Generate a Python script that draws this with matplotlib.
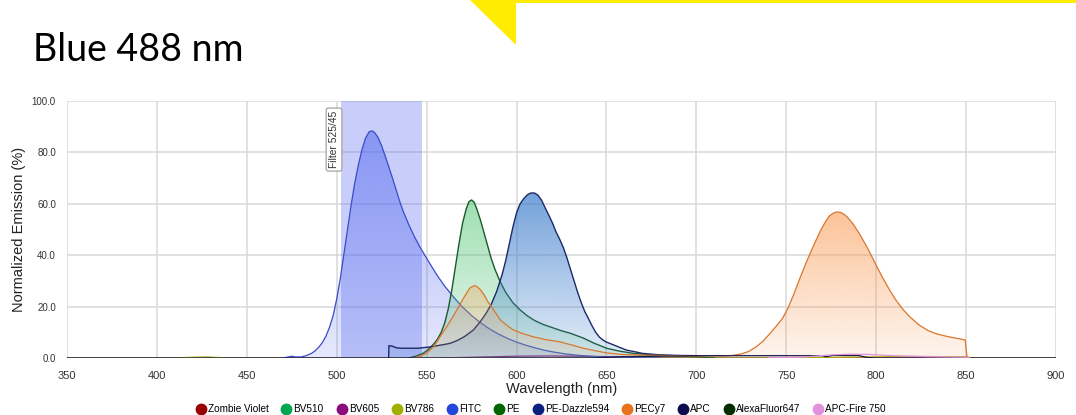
import numpy as np
import matplotlib
matplotlib.use("Agg")
import matplotlib.pyplot as plt
import matplotlib.colors as mcolors
from matplotlib.lines import Line2D
from matplotlib.patches import Polygon, Rectangle

# ---------------------------------------------------------------
# Emission spectra (wavelength in nm, normalized emission in %)
# ---------------------------------------------------------------
fitc_wl = [470, 473, 475, 477, 480, 483, 486, 488, 490, 492, 494, 496, 498, 500, 502, 504,
           506, 508, 510, 512, 514, 516, 518, 519.5, 521, 523, 525, 527, 529, 531, 533, 535,
           537, 540, 543, 546, 549, 552, 556, 560, 565, 570, 575, 580, 585, 590, 595, 600,
           605, 610, 615, 620, 627, 635, 645, 660, 680]
fitc_em = [0, 0.4, 0.7, 0.4, 0.4, 0.9, 1.8, 2.8, 4.2, 6, 8.5, 12, 16.5, 23, 31, 40.5,
           50, 59.5, 68, 75, 81, 85.5, 88, 88.4, 87.8, 85.8, 82.5, 78.5, 74.3, 70, 65.5, 61,
           57, 52, 47.5, 43.5, 40, 36.5, 32, 28, 23.7, 19.8, 16.5, 13.7, 11.3, 9.3, 7.6, 6.2,
           5, 4, 3.1, 2.4, 1.6, 1, 0.5, 0.2, 0]

pe_wl = [540, 544, 548, 551, 554, 556, 558, 560, 562, 564, 566, 568, 570, 572, 573.5, 575,
         576.5, 578, 580, 582, 584, 586, 588, 591, 594, 598, 602, 606, 610, 615, 620, 625,
         630, 637, 643, 650, 657, 665, 672, 680, 690, 700, 710]
pe_em = [0, 0.7, 1.8, 3.3, 5.5, 7.3, 9.8, 13.5, 19, 26.5, 35.5, 44.5, 52.5, 58, 60.8, 61.5,
         60.5, 57.8, 53.5, 48.5, 43.5, 38.5, 34.5, 29.5, 25.5, 21.5, 18.7, 16.4, 14.6, 13, 11.8, 10.6,
         9.6, 7.8, 5.8, 3.8, 2.7, 1.8, 1.4, 1.1, 0.8, 0.5, 0]

dazzle_wl = [528.9, 529, 531, 533, 536, 545, 548, 552, 556, 560, 563, 567, 571, 576, 580, 583,
             586, 589, 592, 594, 596, 598, 600, 602, 604, 606, 608, 610, 612, 614, 616, 618,
             620, 622, 624, 626, 628, 630, 632, 634, 636, 638, 640, 642, 644, 646, 648, 650,
             655, 661, 666, 670, 675, 680, 690, 700]
dazzle_em = [0, 4.8, 4.6, 4.0, 3.8, 3.8, 4.0, 4.3, 4.8, 5.3, 5.7, 6.8, 8.3, 10.9, 14.3, 17.3,
             21, 26, 32.5, 38, 44.5, 51, 56.5, 60, 62, 63.5, 64.2, 64.2, 63.3, 61.3, 58.3, 55.5,
             52.5, 49, 46.2, 43, 39, 34.5, 30, 25.5, 21.5, 18, 15.3, 12.5, 10, 8.2, 7, 6.2,
             4.8, 3.1, 2.4, 1.8, 1.5, 1.2, 1.0, 0.9]

pecy7_wl = [543, 547, 550, 554, 557.5, 561, 565, 569, 572, 574, 576, 577, 578, 580, 582, 584,
            587, 591, 595, 598, 603, 609, 616, 624, 631, 637, 644, 650, 658, 665, 680, 700,
            715, 720, 725, 729, 733, 737, 740, 744, 748, 751, 754, 757, 761, 765, 769, 772,
            774, 776, 778, 780, 782, 784, 787, 791, 795, 799, 803, 807, 811, 815, 819, 824,
            829, 834, 840, 846, 849.5, 850.5, 852]
pecy7_em = [0, 0.8, 1.9, 4.5, 8.3, 12, 16.5, 21.5, 25, 27.2, 28, 28.1, 27.8, 26.5, 24.5, 22,
            19, 14.8, 12.5, 11, 9.6, 8.3, 7.2, 6.3, 5, 3.8, 2.8, 2, 1.4, 1.2, 1.0, 0.8,
            0.8, 1.0, 1.6, 2.5, 4.2, 6.5, 8.8, 12, 15.5, 19.5, 24.5, 30, 37, 43.5, 49.5, 53.3,
            55.3, 56.3, 56.8, 56.7, 56, 54.8, 52.3, 48, 43, 37.5, 32, 27, 22.5, 18.8, 15.8, 12.8,
            10.6, 9.3, 8.3, 7.5, 7, 0.5, 0]

apc_wl = [350, 640, 660, 700, 770, 772, 776, 790, 795, 800, 900]
apc_em = [0, 0, 0.5, 0.9, 0.9, 0.5, 1.0, 1.0, 0.2, 0, 0]

bv605_wl = [350, 555, 575, 600, 620, 645, 670, 700, 900]
bv605_em = [0, 0, 0.3, 0.7, 0.8, 0.6, 0.3, 0, 0]

bv786_wl = [350, 410, 420, 428, 440, 750, 790, 820, 850, 853, 900]
bv786_em = [0, 0, 0.3, 0.4, 0, 0, 0.4, 0.6, 0.5, 0, 0]

fire750_wl = [740, 760, 775, 785, 795, 810, 830, 850, 852]
fire750_em = [0, 0.4, 1.2, 1.5, 1.4, 0.9, 0.5, 0.3, 0]

zero_wl = [350, 900]
zero_em = [0, 0]

# legend order with colours
dyes = ["Zombie Violet", "BV510", "BV605", "BV786", "FITC", "PE", "PE-Dazzle594",
        "PECy7", "APC", "AlexaFluor647", "APC-Fire 750"]
dye_colors = ["#990000", "#00a651", "#8b0a7d", "#a3b000", "#2346dd", "#006400", "#0a2180",
              "#e8731c", "#0b0b4d", "#002e00", "#e391dc"]

filter_lo, filter_hi = 502.5, 547.5
filter_name = "Filter 525/45"


def gradient_fill(ax, x, y, color, a_top, a_bot, z):
    """Fill under a curve with a vertical alpha gradient."""
    poly = ax.fill_between(x, y, 0, facecolor="none", edgecolor="none")
    rgb = mcolors.to_rgb(color)
    img = np.empty((200, 1, 4))
    img[:, :, :3] = rgb
    img[:, 0, 3] = np.linspace(a_bot, a_top, 200)
    im = ax.imshow(img, aspect="auto", origin="lower", zorder=z,
                   extent=[min(x), max(x), 0, max(y)], interpolation="bilinear")
    im.set_clip_path(poly.get_paths()[0], transform=ax.transData)


plt.rcParams["font.family"] = ["Liberation Sans", "DejaVu Sans"]

fig = plt.figure(figsize=(10.76, 4.15), dpi=100)

# yellow header decoration
fig.add_artist(Polygon([(470 / 1076, 1), (516 / 1076, 1), (516 / 1076, 1 - 45 / 415)],
                       closed=True, transform=fig.transFigure, color="#ffec00", lw=0))
fig.add_artist(Rectangle((516 / 1076, 1 - 3 / 415), 560 / 1076, 3 / 415,
                         transform=fig.transFigure, color="#ffec00", lw=0))

fig.text(33 / 1076, 1 - 61 / 415, "Blue 488 nm", fontsize=27, family="Lato",
         va="baseline", ha="left", color="black")

ax = fig.add_axes([67 / 1076, 57 / 415, 989 / 1076, 257 / 415])

# filter band
ax.axvspan(filter_lo, filter_hi, color="#5f70f0", alpha=0.34, lw=0, zorder=1)
ax.text((filter_lo - 4), 85, filter_name, rotation=90, ha="center", va="center",
        fontsize=7.4, color="#333333", zorder=10,
        bbox=dict(boxstyle="round,pad=0.28,rounding_size=0.2", fc="white", ec="#999999", lw=0.8))

# zero-level series
for c in ["#990000", "#00a651", "#002e00"]:
    ax.plot(zero_wl, zero_em, color=c, lw=0.9, zorder=3)
ax.plot(bv605_wl, bv605_em, color="#8b0a7d", lw=0.9, zorder=3)
ax.plot(bv786_wl, bv786_em, color="#a3b000", lw=0.9, zorder=3)

# main filled spectra
gradient_fill(ax, fitc_wl, fitc_em, "#4a5ff0", 0.5, 0.14, 4)
ax.plot(fitc_wl, fitc_em, color="#3a4cc8", lw=0.9, zorder=4.5)

gradient_fill(ax, pe_wl, pe_em, "#3fbf66", 0.5, 0.12, 5)
ax.plot(pe_wl, pe_em, color="#1b5a2a", lw=1.0, zorder=5.5)

gradient_fill(ax, dazzle_wl, dazzle_em, "#3d7dcc", 0.72, 0.14, 6)
ax.plot(dazzle_wl, dazzle_em, color="#1c2a66", lw=1.0, zorder=6.5)

gradient_fill(ax, pecy7_wl, pecy7_em, "#fa9850", 0.58, 0.1, 7)
ax.plot(pecy7_wl, pecy7_em, color="#d9772e", lw=0.9, zorder=7.5)

ax.plot(apc_wl, apc_em, color="#1a1a4d", lw=0.9, zorder=8)
ax.plot(fire750_wl, fire750_em, color="#e391dc", lw=0.9, zorder=8)

ax.set_xlim(350, 900)
ax.set_ylim(0, 100)
ax.set_xticks(np.arange(350, 901, 50))
ax.set_yticks(np.arange(0, 101, 20))
ax.set_yticklabels([f"{v:.1f}" for v in np.arange(0, 101, 20)])
ax.tick_params(axis="x", length=0, labelsize=8, labelcolor="#333333", pad=9)
ax.tick_params(axis="y", length=0, labelsize=7, labelcolor="#333333", pad=8)
ax.grid(True, color="#d8d8d8", lw=1.1, zorder=0)
ax.set_axisbelow(True)
for s in ax.spines.values():
    s.set_visible(False)

ax.set_xlabel("Wavelength (nm)", fontsize=10.5, color="#222222", labelpad=1)
ax.set_ylabel("Normalized Emission (%)", fontsize=10.5, color="#222222", labelpad=4)

handles = [Line2D([], [], marker="o", ls="", color=c, markersize=7.5) for c in dye_colors]
fig.legend(handles, dyes, ncol=len(dyes), loc="center", bbox_to_anchor=(0.503, 1 - 409 / 415),
           frameon=False, fontsize=7.2, handlelength=0.8, handletextpad=0.3,
           columnspacing=1.4, borderpad=0)

fig.savefig("out.png", dpi=100)
